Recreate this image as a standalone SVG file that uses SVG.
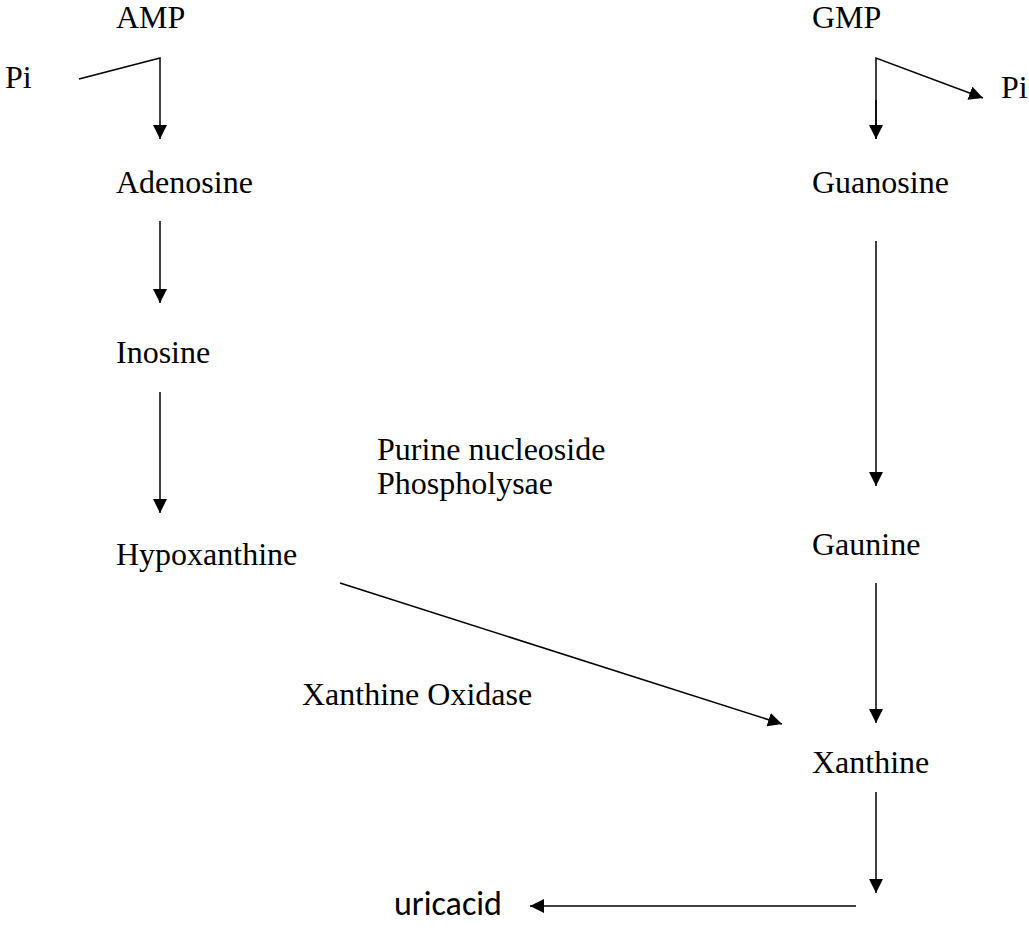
<svg xmlns="http://www.w3.org/2000/svg" width="1029" height="930" viewBox="0 0 1029 930">
<defs>
<marker id="ah" viewBox="0 0 14 14" refX="14" refY="7" markerWidth="14" markerHeight="14" markerUnits="userSpaceOnUse" orient="auto">
<path d="M0,0 L14,7 L0,14 Z" fill="#000"/>
</marker>
</defs>
<style>
.t{font-family:"Liberation Serif","Times New Roman",serif;font-size:32px;fill:#000}
.s{font-family:Carlito,Calibri,"Liberation Sans",sans-serif;font-size:34px;fill:#000}
.c{stroke:#000;stroke-width:1.5;fill:none}
</style>
<rect width="1029" height="930" fill="#fff"/>
<g id="connectors">
<polyline class="c" points="79,79 160,58 160,139" marker-end="url(#ah)"/>
<polyline class="c" points="876,139 876,58 983,98" marker-end="url(#ah)"/>
<line class="c" x1="876" y1="100" x2="876" y2="139" marker-end="url(#ah)"/>
<line class="c" x1="160" y1="221" x2="160" y2="303" marker-end="url(#ah)"/>
<line class="c" x1="160" y1="392" x2="160" y2="513" marker-end="url(#ah)"/>
<line class="c" x1="340" y1="583" x2="782" y2="724" marker-end="url(#ah)"/>
<line class="c" x1="876" y1="241" x2="876" y2="486" marker-end="url(#ah)"/>
<line class="c" x1="876" y1="583" x2="876" y2="723" marker-end="url(#ah)"/>
<line class="c" x1="876" y1="792" x2="876" y2="893" marker-end="url(#ah)"/>
<line class="c" x1="856" y1="906" x2="530" y2="906" marker-end="url(#ah)"/>
</g>
<g id="AMP"><text class="t" x="116" y="28">AMP</text></g>
<g id="Pi-left"><text class="t" x="5" y="88">Pi</text></g>
<g id="Adenosine"><text class="t" x="116" y="193">Adenosine</text></g>
<g id="Inosine"><text class="t" x="116" y="363">Inosine</text></g>
<g id="Hypoxanthine"><text class="t" x="116" y="565">Hypoxanthine</text></g>
<g id="enzyme-pnp"><text class="t" x="377" y="460">Purine nucleoside</text><text class="t" x="377" y="494">Phospholysae</text></g>
<g id="enzyme-xo"><text class="t" x="302" y="705">Xanthine Oxidase</text></g>
<g id="GMP"><text class="t" x="812" y="28">GMP</text></g>
<g id="Pi-right"><text class="t" x="1001" y="98">Pi</text></g>
<g id="Guanosine"><text class="t" x="812" y="193">Guanosine</text></g>
<g id="Gaunine"><text class="t" x="812" y="555">Gaunine</text></g>
<g id="Xanthine"><text class="t" x="812" y="773">Xanthine</text></g>
<g id="uricacid"><text class="s" x="394" y="915">uricacid</text></g>
</svg>
